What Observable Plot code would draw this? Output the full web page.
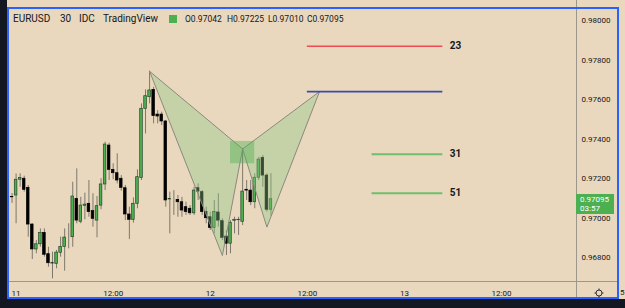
<!DOCTYPE html>
<html><head><meta charset="utf-8">
<script src="https://cdn.jsdelivr.net/npm/d3@7"></script>
<script src="https://cdn.jsdelivr.net/npm/@observablehq/plot@0.6"></script>
<style>
html,body{margin:0;padding:0;}
body{width:625px;height:308px;overflow:hidden;background:#131722;position:relative;font-family:Roboto,"Open Sans",sans-serif;}
.abs{position:absolute;}
#bg{left:7px;top:0;width:618px;height:299px;background:#e9d8bd;}
#frame{left:7px;top:7px;width:612px;height:292px;border:2px solid #2962ff;box-sizing:border-box;}
#vsep{left:576px;top:0;width:1px;height:297px;background:#9c978d;}
#hsep{left:9px;top:281px;width:608px;height:1px;background:#9c978d;}
#chart{left:0;top:0;}
.hdr{top:13px;line-height:12px;color:#131722;white-space:nowrap;}
.big{font-size:10px;}
.small{font-size:8.5px;}
#plabel{left:576px;width:38px;height:20px;background:#4caf50;color:#fff;font-size:8px;line-height:9.5px;box-sizing:border-box;padding:0.5px 0 0 4px;}
</style></head><body>
<div id="bg" class="abs"></div>
<div id="chart" class="abs"></div>
<div id="vsep" class="abs"></div>
<div id="hsep" class="abs"></div>
<div id="frame" class="abs"></div>
<div id="header"></div>
<div id="plabel" class="abs"></div>
<svg class="abs" style="left:594px;top:288px" width="10" height="10" viewBox="0 0 10 10">
  <circle cx="5" cy="5" r="3" fill="none" stroke="#2a2e39" stroke-width="1"/>
  <g stroke="#2a2e39" stroke-width="1">
    <line x1="5" y1="0.5" x2="5" y2="2"/><line x1="5" y1="8" x2="5" y2="9.5"/>
    <line x1="0.5" y1="5" x2="2" y2="5"/><line x1="8" y1="5" x2="9.5" y2="5"/>
  </g>
</svg>
<div class="abs" style="left:620px;top:288px;font-size:8px;color:#131722">5</div>
<script>
// ---- data (30-minute bars of EURUSD, first bar 10 Oct 23:30 UTC) ----
const symbolInfo = ["EURUSD", "30", "IDC", "TradingView"];
const firstBarTime = "2022-10-10T23:30Z";
const barMinutes = 30;
const opens = [0.97106,0.97114,0.97194,0.97199,0.97153,0.96967,0.96841,0.96867,0.96925,0.96817,
0.96771,0.96768,0.96824,0.96854,0.96908,0.96903,0.97097,0.96981,0.97062,0.97072,
0.97035,0.96987,0.97063,0.97170,0.97367,0.97244,0.97227,0.97199,0.97151,0.97018,
0.96991,0.97072,0.97202,0.97553,0.97612,0.97649,0.97524,0.97524,0.97489,0.97094,
0.97100,0.97092,0.97080,0.97055,0.97047,0.97024,0.97151,0.97131,0.97030,0.97004,
0.96950,0.97028,0.96984,0.96906,0.96870,0.96986,0.96989,0.96981,0.97143,0.97139,
0.97080,0.97204,0.97305,0.97215,0.97042];
const highs = [0.97124,0.97223,0.97224,0.97212,0.97165,0.96971,0.96886,0.96945,0.96945,0.96852,
0.96827,0.96836,0.96903,0.96945,0.96971,0.97181,0.97249,0.97105,0.97126,0.97190,
0.97123,0.97109,0.97199,0.97384,0.97379,0.97275,0.97325,0.97215,0.97165,0.97055,
0.97102,0.97244,0.97578,0.97649,0.97743,0.97662,0.97544,0.97536,0.97494,0.97131,
0.97139,0.97114,0.97105,0.97080,0.97063,0.97156,0.97173,0.97139,0.97055,0.97030,
0.97089,0.97123,0.96996,0.96937,0.96987,0.97004,0.97004,0.97350,0.97190,0.97190,
0.97224,0.97308,0.97317,0.97224,0.97225];
const lows = [0.97074,0.96971,0.97156,0.97131,0.96903,0.96790,0.96819,0.96852,0.96802,0.96751,
0.96692,0.96743,0.96802,0.96731,0.96844,0.96852,0.96971,0.96971,0.96991,0.97004,
0.96954,0.96900,0.97042,0.97139,0.97190,0.97194,0.97173,0.97136,0.96987,0.96891,
0.96974,0.97047,0.97190,0.97426,0.97578,0.97477,0.97477,0.97468,0.97055,0.96920,
0.97013,0.97004,0.97004,0.97013,0.97013,0.97013,0.97089,0.97013,0.96971,0.96937,
0.96920,0.96954,0.96886,0.96810,0.96819,0.96920,0.96912,0.96962,0.97089,0.97063,
0.97047,0.97190,0.97156,0.97030,0.97010];
const closes = [0.97105,0.97194,0.97202,0.97143,0.96967,0.96841,0.96867,0.96925,0.96814,0.96771,
0.96770,0.96825,0.96854,0.96901,0.96908,0.97109,0.96987,0.97063,0.97068,0.97030,
0.96996,0.97060,0.97170,0.97372,0.97244,0.97227,0.97190,0.97153,0.97018,0.96991,
0.97072,0.97207,0.97553,0.97617,0.97646,0.97516,0.97514,0.97489,0.97089,0.97097,
0.97100,0.97080,0.97038,0.97030,0.97024,0.97139,0.97134,0.97030,0.96999,0.96950,
0.97030,0.96987,0.96900,0.96870,0.96976,0.96991,0.96991,0.97134,0.97139,0.97080,
0.97204,0.97296,0.97215,0.97042,0.97095];
const barCountdown = "03:57";

// harmonic pattern points
const patternNames  = ["X", "A", "B", "C", "D"];
const patternTimes  = ["2022-10-11T16:30Z","2022-10-12T01:30Z","2022-10-12T04:00Z","2022-10-12T07:00Z","2022-10-12T13:30Z"];
const patternPrices = [0.97743, 0.96810, 0.97350, 0.96954, 0.97640];
const patternTriangles = [["X","A","B","X"], ["B","C","D","B"]];
// highlighted zone near B
const zoneTimes  = ["2022-10-12T02:30Z", "2022-10-12T05:30Z"];
const zonePrices = [0.97275, 0.97388];

// horizontal levels
const levelLabels = ["23", "", "31", "51"];
const levelPrices = [0.97870, 0.97640, 0.97323, 0.97126];
const levelFrom   = ["2022-10-12T12:00Z","2022-10-12T12:00Z","2022-10-12T20:00Z","2022-10-12T20:00Z"];
const levelTo     = ["2022-10-13T04:45Z","2022-10-13T04:45Z","2022-10-13T04:45Z","2022-10-13T04:45Z"];

// axes
const timeTicks  = ["2022-10-11T00:00Z","2022-10-11T12:00Z","2022-10-12T00:00Z","2022-10-12T12:00Z","2022-10-13T00:00Z","2022-10-13T12:00Z"];
const priceTicks = [0.968, 0.970, 0.972, 0.974, 0.976, 0.978, 0.980];

// ---- build ----
const H = 3600e3;
const t0 = Date.parse(firstBarTime);
const bars = opens.map((o, i) => ({t: new Date(t0 + i * barMinutes * 60e3), o, hi: highs[i], lo: lows[i], c: closes[i]}));
const bw = 0.16 * H;
const sh = (d, k) => new Date(+d + k);
const pt = Object.fromEntries(patternNames.map((n, i) => [n, {t: new Date(patternTimes[i]), p: patternPrices[i]}]));
const triRows = patternTriangles.flatMap((tri, j) => tri.map(n => ({tri: j, t: pt[n].t, p: pt[n].p})));
const zone = {x1: new Date(zoneTimes[0]), x2: new Date(zoneTimes[1]), y1: zonePrices[0], y2: zonePrices[1]};
const levels = levelLabels.map((name, i) => ({name, p: levelPrices[i], start: new Date(levelFrom[i]), end: new Date(levelTo[i])}));
const levelStroke = ["#ef4b55", "#3a4bb0", "#6dbf6c", "#6dbf6c"];
const levelWidth = [1.3, 1.6, 2, 2];

const day0 = Date.parse(timeTicks[0]);
const xDomain = [new Date(day0 - 0.94 * H), new Date(day0 + 69.27 * H)];
const hm = d3.utcFormat("%H:%M");

const chart = Plot.plot({
  width: 625, height: 308,
  marginLeft: 8, marginRight: 49, marginTop: 9, marginBottom: 27,
  style: {background: "transparent", fontFamily: "Roboto, 'Open Sans', sans-serif", fontSize: "8px", color: "#131722", overflow: "visible"},
  x: {type: "utc", domain: xDomain, ticks: timeTicks.map(s => new Date(s)),
      tickFormat: d => d.getUTCHours() === 0 ? String(d.getUTCDate()) : hm(d),
      tickSize: 0, tickPadding: 9, label: null},
  y: {domain: [0.966786, 0.98056], axis: "right", ticks: priceTicks, tickFormat: d => d.toFixed(5),
      tickSize: 0, tickPadding: 5, label: null},
  marks: [
    Plot.ruleX(bars, {x: "t", y1: "lo", y2: "hi", stroke: "#7d786c", strokeWidth: 1}),
    Plot.rect(bars.filter(d => d.c > d.o), {x1: d => sh(d.t, -bw), x2: d => sh(d.t, bw), y1: "o", y2: "c",
      fill: "#4caf50", stroke: "#25472a", strokeWidth: 0.7}),
    Plot.rect(bars.filter(d => d.c <= d.o), {x1: d => sh(d.t, -bw), x2: d => sh(d.t, bw), y1: "o", y2: "c",
      fill: "#000", stroke: "#000", strokeWidth: 0.7}),
    Plot.line(triRows, {x: "t", y: "p", z: "tri", fill: "rgb(139,199,131)", fillOpacity: 0.38,
      stroke: "#8b897f", strokeWidth: 1, strokeLinejoin: "miter"}),
    Plot.rect([zone], {x1: "x1", x2: "x2", y1: "y1", y2: "y2", fill: "#4caf50", fillOpacity: 0.42}),
    ...levels.map((d, i) => Plot.ruleY([d], {y: "p", x1: "start", x2: "end", stroke: levelStroke[i], strokeWidth: levelWidth[i]})),
    Plot.text(levels.filter(d => d.name), {x: "end", y: "p", text: "name", dx: 7, textAnchor: "start",
      fontWeight: "bold", fontSize: 10, fill: "#131722"})
  ]
});
document.getElementById("chart").appendChild(chart);

// header
const last = bars[bars.length - 1];
const hdr = document.getElementById("header");
const items = [
  [symbolInfo[0], 13, "big"], [symbolInfo[1], 60, "big"], [symbolInfo[2], 79, "big"], [symbolInfo[3], 103, "big"],
  ["O" + last.o.toFixed(5), 185, "small"], ["H" + last.hi.toFixed(5), 227, "small"],
  ["L" + last.lo.toFixed(5), 268, "small"], ["C" + last.c.toFixed(5), 307, "small"]
];
for (const [txt, left, cls] of items) {
  const s = document.createElement("div");
  s.className = "abs hdr " + cls;
  s.style.left = left + "px";
  s.textContent = txt;
  hdr.appendChild(s);
}
const sq = document.createElement("div");
sq.className = "abs";
Object.assign(sq.style, {left: "169px", top: "15px", width: "8px", height: "8px", background: "#4caf50"});
hdr.appendChild(sq);

// last price label on the price axis
const yy = chart.scale("y").apply(last.c);
const pl = document.getElementById("plabel");
pl.style.top = (yy - 4.7) + "px";
pl.innerHTML = last.c.toFixed(5) + "<br>" + barCountdown;
</script>
</body></html>
